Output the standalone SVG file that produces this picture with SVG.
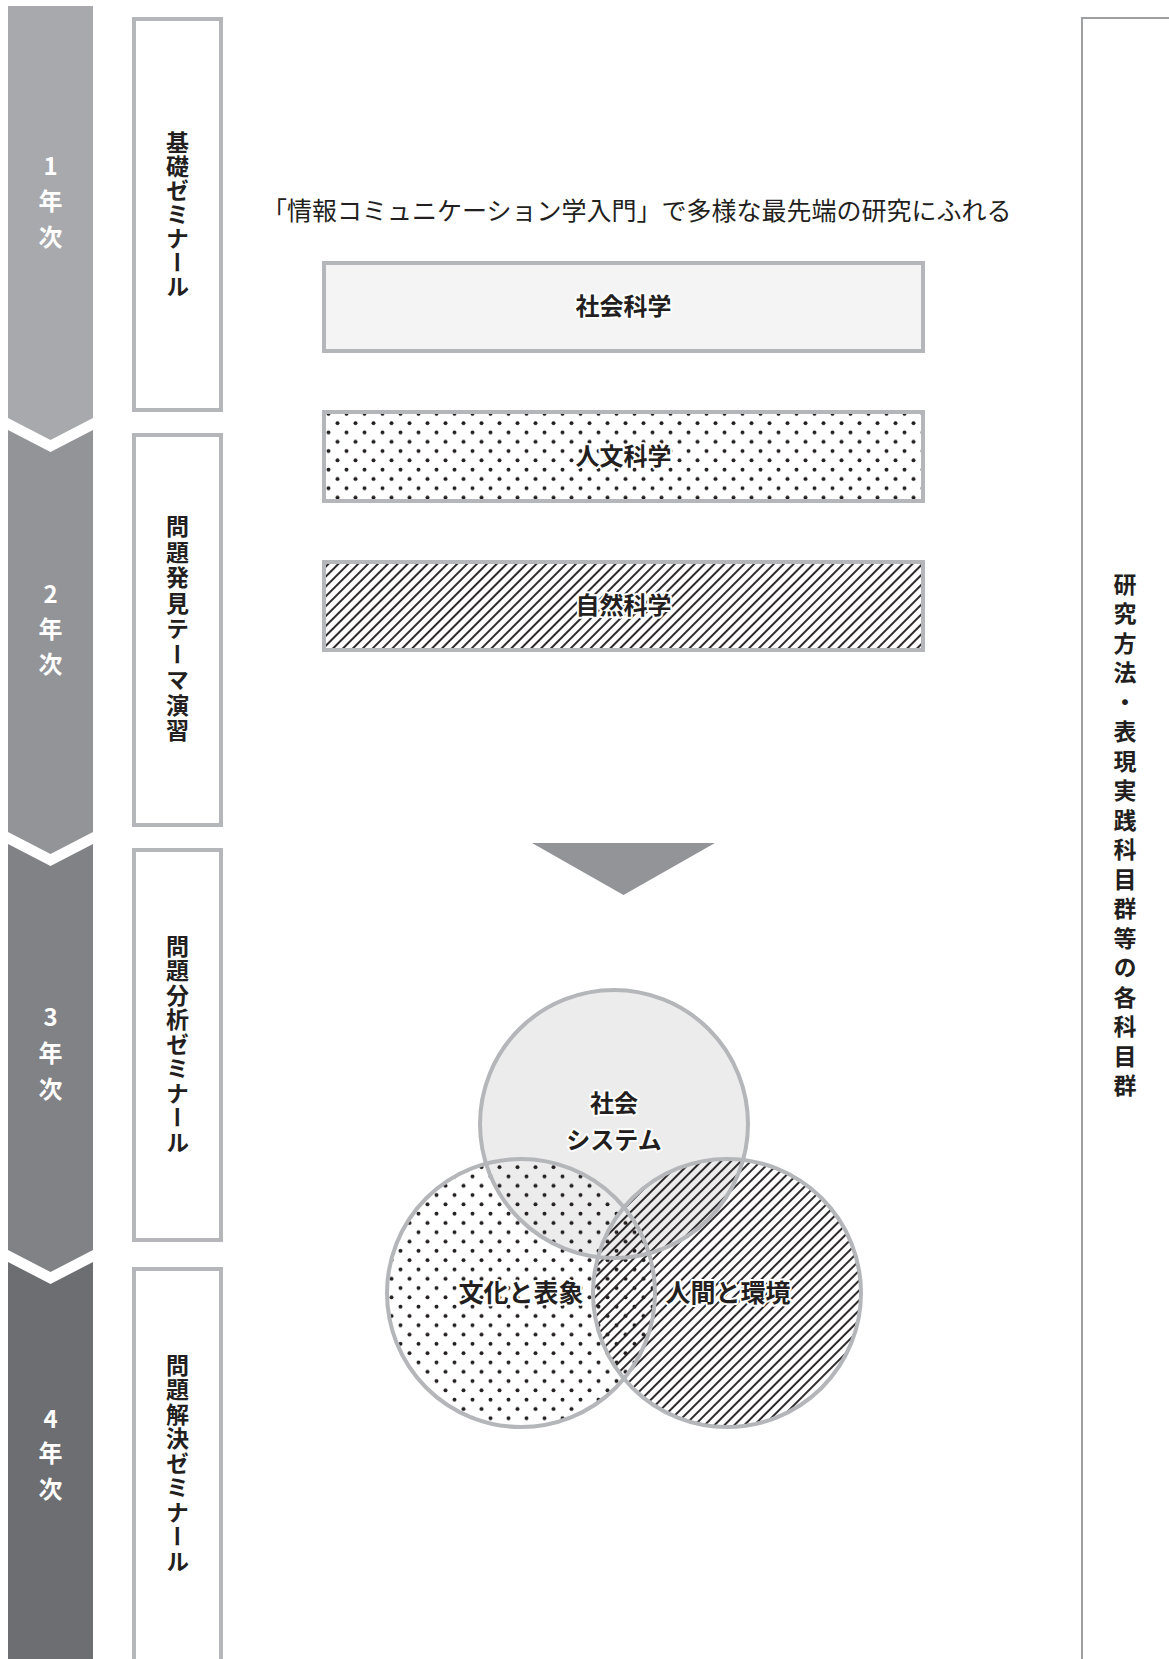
<svg xmlns="http://www.w3.org/2000/svg" width="1169" height="1659" viewBox="0 0 1169 1659">
<defs>
<style>
.t{font-family:"Noto Sans CJK JP","Noto Sans",sans-serif;}
.yr{font-family:"Noto Sans CJK JP","Noto Sans",sans-serif;font-weight:700;font-size:24px;fill:#ffffff;text-anchor:middle;}
.col{fill:#ffffff;stroke:#b5b6b9;stroke-width:4;}
.vt{font-family:"Noto Sans CJK JP","Noto Sans",sans-serif;font-weight:700;font-size:23px;fill:#231f20;writing-mode:vertical-rl;text-anchor:middle;}
.lab{font-family:"Noto Sans CJK JP","Noto Sans",sans-serif;font-weight:700;fill:#231f20;text-anchor:middle;stroke:#ffffff;stroke-width:4;paint-order:stroke;stroke-linejoin:round;}
.ring{fill:none;stroke:#b5b6b9;stroke-width:4;}
</style>
<pattern id="dots" patternUnits="userSpaceOnUse" width="18" height="18.6">
<circle cx="4.5" cy="4.65" r="2" fill="#231f20"/>
<circle cx="13.5" cy="13.95" r="2" fill="#231f20"/>
</pattern>
<pattern id="hatch" patternUnits="userSpaceOnUse" width="7" height="10" patternTransform="rotate(45)">
<line x1="1" y1="-1" x2="1" y2="11" stroke="#231f20" stroke-width="1.9"/>
</pattern>
</defs>
<rect width="1169" height="1659" fill="#ffffff"/>

<g id="year1">
<path d="M8 6 H93 V418 L50.5 440 L8 418 Z" fill="#a8a9ad"/>
<text class="yr"><tspan x="50.5" y="175">1</tspan><tspan x="50.5" y="210">年</tspan><tspan x="50.5" y="246">次</tspan></text>
</g>
<g id="year2">
<path d="M8 430 L50.5 452 L93 430 V832 L50.5 854 L8 832 Z" fill="#939498"/>
<text class="yr"><tspan x="50.5" y="603">2</tspan><tspan x="50.5" y="638">年</tspan><tspan x="50.5" y="673">次</tspan></text>
</g>
<g id="year3">
<path d="M8 844 L50.5 866 L93 844 V1250 L50.5 1272 L8 1250 Z" fill="#818286"/>
<text class="yr"><tspan x="50.5" y="1026">3</tspan><tspan x="50.5" y="1062">年</tspan><tspan x="50.5" y="1098">次</tspan></text>
</g>
<g id="year4">
<path d="M8 1262 L50.5 1284 L93 1262 V1659 H8 Z" fill="#6d6e72"/>
<text class="yr"><tspan x="50.5" y="1428">4</tspan><tspan x="50.5" y="1462">年</tspan><tspan x="50.5" y="1498">次</tspan></text>
</g>

<g id="seminar1">
<rect class="col" x="134" y="19" width="87" height="391"/>
<text class="vt" x="177.5" y="215" letter-spacing="1">基礎ゼミナール</text>
</g>
<g id="seminar2">
<rect class="col" x="134" y="435" width="87" height="390"/>
<text class="vt" x="177.5" y="630" letter-spacing="2.5">問題発見テーマ演習</text>
</g>
<g id="seminar3">
<rect class="col" x="134" y="850" width="87" height="390"/>
<text class="vt" x="177.5" y="1045" letter-spacing="1.5">問題分析ゼミナール</text>
</g>
<g id="seminar4">
<rect class="col" x="134" y="1269" width="87" height="420"/>
<text class="vt" x="177.5" y="1464" letter-spacing="1.5">問題解決ゼミナール</text>
</g>

<g id="intro">
<text class="t" x="262" y="220" font-size="25" fill="#231f20">「情報コミュニケーション学入門」で多様な最先端の研究にふれる</text>
</g>

<g id="social-science">
<rect x="324" y="263" width="599" height="88" fill="#f4f4f4" stroke="#b5b6b9" stroke-width="4"/>
<text class="lab" x="623.5" y="315" font-size="24">社会科学</text>
</g>
<g id="humanities">
<rect x="324" y="412" width="599" height="89" fill="#ffffff" stroke="none"/>
<rect x="324" y="412" width="599" height="89" fill="url(#dots)" stroke="#b5b6b9" stroke-width="4"/>
<text class="lab" x="623.5" y="465" font-size="24">人文科学</text>
</g>
<g id="natural-science">
<rect x="324" y="562" width="599" height="88" fill="#ffffff" stroke="none"/>
<rect x="324" y="562" width="599" height="88" fill="url(#hatch)" stroke="#b5b6b9" stroke-width="4"/>
<text class="lab" x="623.5" y="614" font-size="24">自然科学</text>
</g>

<g id="connectors">
<path d="M532 843 H715 L623.5 895 Z" fill="#939498"/>
</g>

<g id="venn">
<g id="social-system">
<circle cx="614" cy="1124" r="134" fill="#ececec"/>
</g>
<g id="culture">
<circle cx="521" cy="1293" r="134" fill="url(#dots)"/>
</g>
<g id="human-env">
<circle cx="727" cy="1293" r="134" fill="url(#hatch)"/>
</g>
<circle class="ring" cx="614" cy="1124" r="134"/>
<circle class="ring" cx="521" cy="1293" r="134"/>
<circle class="ring" cx="727" cy="1293" r="134"/>
<text class="lab" x="614" y="1112" font-size="24">社会</text>
<text class="lab" x="614" y="1149" font-size="24">システム</text>
<text class="lab" x="521" y="1302" font-size="25">文化と表象</text>
<text class="lab" x="728" y="1302" font-size="25">人間と環境</text>
</g>

<g id="methods">
<rect x="1082" y="18" width="120" height="1700" fill="#ffffff" stroke="#9fa0a3" stroke-width="2"/>
<text class="vt" x="1125" y="838" letter-spacing="6.5">研究方法・表現実践科目群等の各科目群</text>
</g>
</svg>
